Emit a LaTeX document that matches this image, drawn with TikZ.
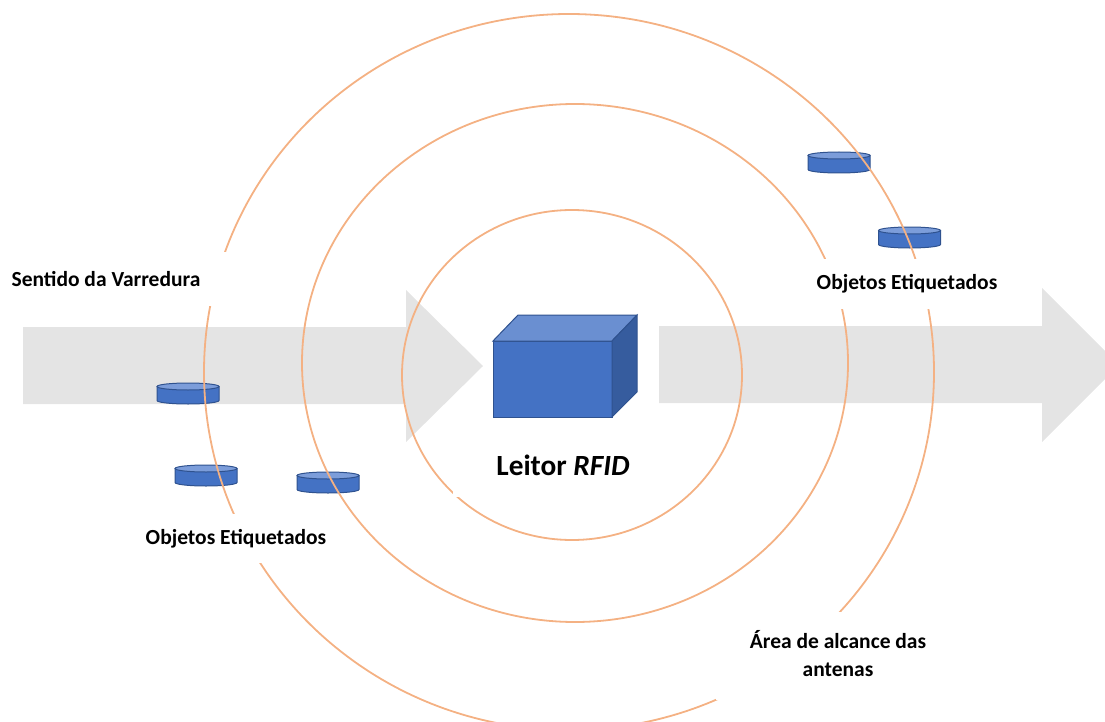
\documentclass[tikz,border=0pt]{standalone}
\usepackage{fontspec}
\setmainfont{Carlito}
\definecolor{ring}{HTML}{F4B183}
\definecolor{arrowgray}{HTML}{E4E4E4}
\definecolor{boxfront}{HTML}{4472C4}
\definecolor{boxtop}{HTML}{6A8FD1}
\definecolor{boxside}{HTML}{365C9E}
\definecolor{boxline}{HTML}{2F528F}
\definecolor{disktop}{HTML}{7C9DDA}
\newcommand{\tagdisk}[3]{%
  \coordinate (#1) at (#2,#3);
  \filldraw[fill=boxfront, draw=boxline, line width=1pt]
    (#2-31,#3+3.5) -- (#2-31,#3+17.5)
    arc[start angle=180, end angle=360, x radius=31pt, y radius=3.5pt]
    -- (#2+31,#3+3.5) -- cycle;
  \filldraw[fill=disktop, draw=boxline, line width=1pt]
    (#2,#3+3.5) ellipse [x radius=31pt, y radius=3.5pt];
}
\begin{document}
\begin{tikzpicture}[x=1pt, y=-1pt,
  lbl/.style={font=\fontsize{21.5}{28}\selectfont\bfseries, inner sep=0pt},
  big/.style={font=\fontsize{29.3}{33}\selectfont\bfseries, inner sep=0pt},
  ringline/.style={draw=ring, line width=1.8pt},
  bigarrow/.style={fill=arrowgray}]
\useasboundingbox (0,0) rectangle (1105,722);
\clip (0,0) rectangle (1105,722);
% scan direction arrows
\fill[bigarrow] (23,327) -- (406,327) -- (406,290) -- (483,366) -- (406,442) -- (406,404) -- (23,404) -- cycle;
\fill[bigarrow] (659,326) -- (1042,326) -- (1042,288) -- (1119,365) -- (1042,442) -- (1042,403) -- (659,403) -- cycle;
% tagged objects
\tagdisk{t1}{188}{383}
\tagdisk{t2}{206}{465}
\tagdisk{t3}{328}{472}
\tagdisk{t4}{839}{152}
\tagdisk{t5}{909.5}{227}
% antenna range rings
\draw[ringline] (572,375) ellipse [x radius=170pt, y radius=165pt];
\draw[ringline] (575,363) ellipse [x radius=273pt, y radius=259pt];
\draw[ringline] (569,372) ellipse [x radius=365pt, y radius=358pt];
% label backgrounds
\fill[white] (0,252) rectangle (230,306);
\fill[white] (138,514) rectangle (334,563);
\fill[white] (800,259) rectangle (1010,309);
\fill[white] (716,612) rectangle (965,700);
\fill[white] (453,436) rectangle (675,497);
% labels
\node[lbl] (sentido) at (106,279) {Sentido da Varredura};
\node[lbl] (objL) at (236,539) {Objetos Etiquetados};
\node[lbl] (objR) at (907,284) {Objetos Etiquetados};
\node[lbl, align=center] (area) at (838,654) {Área de alcance das\\antenas};
\node[big] (leitor) at (563,465) {Leitor \textit{RFID}};
% reader box
\filldraw[fill=boxfront, draw=boxline, line width=1pt] (493,341) rectangle (612,417);
\filldraw[fill=boxtop, draw=boxline, line width=1pt] (493,341) -- (518,315) -- (637,315) -- (612,341) -- cycle;
\filldraw[fill=boxside, draw=boxline, line width=1pt] (612,341) -- (637,315) -- (637,392) -- (612,417) -- cycle;
\coordinate (reader) at (552,379);
\end{tikzpicture}
\end{document}
